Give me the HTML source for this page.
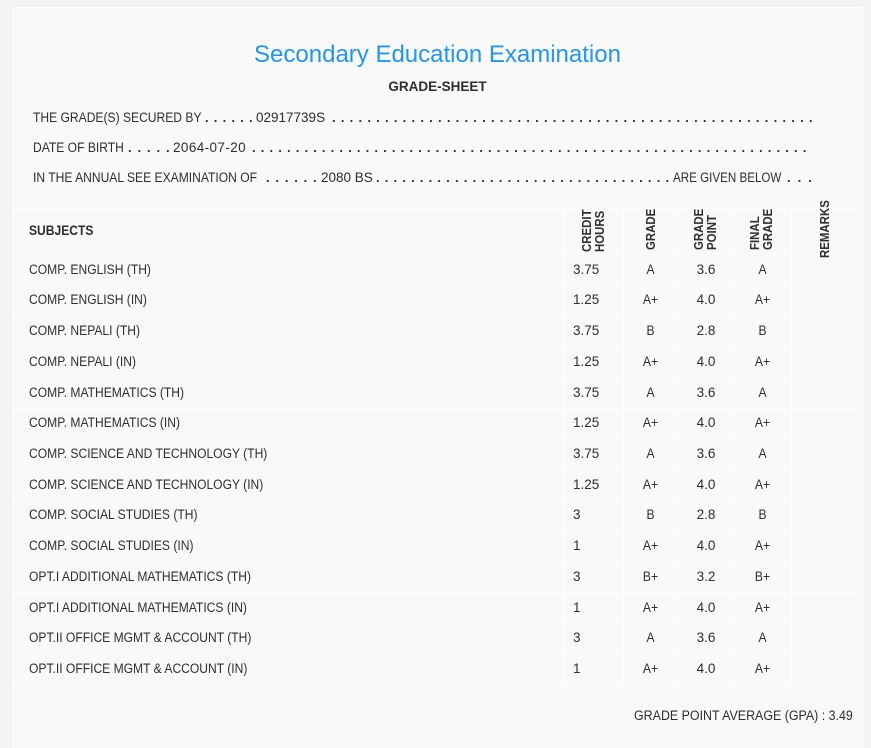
<!DOCTYPE html>
<html>
<head>
<meta charset="utf-8">
<style>
  html,body{margin:0;padding:0;}
  body{width:871px;height:741px;overflow:hidden;position:relative;background:#f3f3f3;
       font-family:"Liberation Sans",Arial,sans-serif;color:#2e2e2e;}
  .panel{position:absolute;left:13px;top:7px;width:848px;height:740px;background:#f9f9f9;
         border-left:1px solid #fff;border-top:1px solid #fff;border-right:1px solid #fff;}
  .t{position:absolute;white-space:nowrap;font-size:13.5px;line-height:15px;
     transform:scaleX(0.895);transform-origin:0 0;}
  .n{position:absolute;white-space:nowrap;font-size:13.5px;line-height:15px;}
  .d{position:absolute;white-space:nowrap;font-size:13px;line-height:15px;font-weight:bold;}
  .b{font-weight:bold;}
  .h{position:absolute;left:14px;width:848px;height:1px;background:#fff;}
  .v{position:absolute;top:208px;height:476px;width:1px;background:#fff;}
  .rot{position:absolute;white-space:nowrap;font-size:13px;line-height:14px;font-weight:bold;
       transform:rotate(-90deg) scaleX(0.88);transform-origin:0 0;}
  .c{text-align:center;transform-origin:50% 0;}
</style>
</head>
<body>
<div class="panel"></div>

<div class="n" style="left:13px;width:849px;top:42.7px;font-size:24px;line-height:24px;color:#2196f3;text-align:center;">Secondary Education Examination</div>
<div class="n b" style="left:13px;width:849px;top:78.9px;font-size:13.5px;line-height:16px;text-align:center;">GRADE-SHEET</div>

<!-- info line 1 -->
<div class="t" style="left:33px;top:110px;">THE GRADE(S) SECURED BY</div>
<div class="d" style="left:205px;top:110px;letter-spacing:5.2px;">......</div>
<div class="n" style="left:256px;top:110px;">02917739S</div>
<div class="d" style="left:332px;top:110px;letter-spacing:5.22px;">.......................................................</div>

<!-- info line 2 -->
<div class="t" style="left:33px;top:139.7px;">DATE OF BIRTH</div>
<div class="d" style="left:128px;top:139.7px;letter-spacing:5.9px;">.....</div>
<div class="n" style="left:173px;top:139.7px;letter-spacing:0.4px;">2064-07-20</div>
<div class="d" style="left:252px;top:139.7px;letter-spacing:5.13px;">................................................................</div>

<!-- info line 3 -->
<div class="t" style="left:33px;top:170px;">IN THE ANNUAL SEE EXAMINATION OF</div>
<div class="d" style="left:266px;top:170px;letter-spacing:5.8px;">......</div>
<div class="n" style="left:321px;top:170px;">2080 BS</div>
<div class="d" style="left:376px;top:170px;letter-spacing:5.16px;">..................................</div>
<div class="t" style="left:673px;top:170px;transform:scaleX(0.86);">ARE GIVEN BELOW</div>
<div class="d" style="left:787px;top:170px;letter-spacing:7.0px;">...</div>

<!-- grid lines -->
<div class="h" style="top:208px"></div>
<div class="h" style="top:254px"></div>
<div class="h" style="top:285px"></div>
<div class="h" style="top:316px"></div>
<div class="h" style="top:346px"></div>
<div class="h" style="top:377px"></div>
<div class="h" style="top:408px"></div>
<div class="h" style="top:438px"></div>
<div class="h" style="top:469px"></div>
<div class="h" style="top:500px"></div>
<div class="h" style="top:530px"></div>
<div class="h" style="top:561px"></div>
<div class="h" style="top:592px"></div>
<div class="h" style="top:622px"></div>
<div class="h" style="top:653px"></div>
<div class="h" style="top:684px"></div>
<div class="v" style="left:564px"></div>
<div class="v" style="left:623px"></div>
<div class="v" style="left:678px"></div>
<div class="v" style="left:734px"></div>
<div class="v" style="left:791px"></div>

<!-- header -->
<div class="t b" style="left:29px;top:222.6px;">SUBJECTS</div>
<div class="rot" style="left:580.2px;top:252px;">CREDIT</div>
<div class="rot" style="left:593.2px;top:252px;">HOURS</div>
<div class="rot" style="left:644.2px;top:250px;">GRADE</div>
<div class="rot" style="left:692.2px;top:250px;">GRADE</div>
<div class="rot" style="left:705.2px;top:250px;">POINT</div>
<div class="rot" style="left:748.2px;top:250px;">FINAL</div>
<div class="rot" style="left:761.2px;top:250px;">GRADE</div>
<div class="rot" style="left:818.2px;top:258px;">REMARKS</div>

<!-- rows -->
<div class="t" style="left:29px;top:261.6px;">COMP. ENGLISH (TH)</div>
<div class="n" style="left:573px;top:261.6px;">3.75</div>
<div class="t c" style="left:623px;width:55px;top:261.6px;">A</div>
<div class="n c" style="left:678px;width:56px;top:261.6px;">3.6</div>
<div class="t c" style="left:734px;width:57px;top:261.6px;">A</div>

<div class="t" style="left:29px;top:292.3px;">COMP. ENGLISH (IN)</div>
<div class="n" style="left:573px;top:292.3px;">1.25</div>
<div class="t c" style="left:623px;width:55px;top:292.3px;">A+</div>
<div class="n c" style="left:678px;width:56px;top:292.3px;">4.0</div>
<div class="t c" style="left:734px;width:57px;top:292.3px;">A+</div>

<div class="t" style="left:29px;top:323px;">COMP. NEPALI (TH)</div>
<div class="n" style="left:573px;top:323px;">3.75</div>
<div class="t c" style="left:623px;width:55px;top:323px;">B</div>
<div class="n c" style="left:678px;width:56px;top:323px;">2.8</div>
<div class="t c" style="left:734px;width:57px;top:323px;">B</div>

<div class="t" style="left:29px;top:353.8px;">COMP. NEPALI (IN)</div>
<div class="n" style="left:573px;top:353.8px;">1.25</div>
<div class="t c" style="left:623px;width:55px;top:353.8px;">A+</div>
<div class="n c" style="left:678px;width:56px;top:353.8px;">4.0</div>
<div class="t c" style="left:734px;width:57px;top:353.8px;">A+</div>

<div class="t" style="left:29px;top:384.5px;">COMP. MATHEMATICS (TH)</div>
<div class="n" style="left:573px;top:384.5px;">3.75</div>
<div class="t c" style="left:623px;width:55px;top:384.5px;">A</div>
<div class="n c" style="left:678px;width:56px;top:384.5px;">3.6</div>
<div class="t c" style="left:734px;width:57px;top:384.5px;">A</div>

<div class="t" style="left:29px;top:415.2px;">COMP. MATHEMATICS (IN)</div>
<div class="n" style="left:573px;top:415.2px;">1.25</div>
<div class="t c" style="left:623px;width:55px;top:415.2px;">A+</div>
<div class="n c" style="left:678px;width:56px;top:415.2px;">4.0</div>
<div class="t c" style="left:734px;width:57px;top:415.2px;">A+</div>

<div class="t" style="left:29px;top:445.9px;">COMP. SCIENCE AND TECHNOLOGY (TH)</div>
<div class="n" style="left:573px;top:445.9px;">3.75</div>
<div class="t c" style="left:623px;width:55px;top:445.9px;">A</div>
<div class="n c" style="left:678px;width:56px;top:445.9px;">3.6</div>
<div class="t c" style="left:734px;width:57px;top:445.9px;">A</div>

<div class="t" style="left:29px;top:476.6px;">COMP. SCIENCE AND TECHNOLOGY (IN)</div>
<div class="n" style="left:573px;top:476.6px;">1.25</div>
<div class="t c" style="left:623px;width:55px;top:476.6px;">A+</div>
<div class="n c" style="left:678px;width:56px;top:476.6px;">4.0</div>
<div class="t c" style="left:734px;width:57px;top:476.6px;">A+</div>

<div class="t" style="left:29px;top:507.4px;">COMP. SOCIAL STUDIES (TH)</div>
<div class="n" style="left:573px;top:507.4px;">3</div>
<div class="t c" style="left:623px;width:55px;top:507.4px;">B</div>
<div class="n c" style="left:678px;width:56px;top:507.4px;">2.8</div>
<div class="t c" style="left:734px;width:57px;top:507.4px;">B</div>

<div class="t" style="left:29px;top:538.1px;">COMP. SOCIAL STUDIES (IN)</div>
<div class="n" style="left:573px;top:538.1px;">1</div>
<div class="t c" style="left:623px;width:55px;top:538.1px;">A+</div>
<div class="n c" style="left:678px;width:56px;top:538.1px;">4.0</div>
<div class="t c" style="left:734px;width:57px;top:538.1px;">A+</div>

<div class="t" style="left:29px;top:568.8px;">OPT.I ADDITIONAL MATHEMATICS (TH)</div>
<div class="n" style="left:573px;top:568.8px;">3</div>
<div class="t c" style="left:623px;width:55px;top:568.8px;">B+</div>
<div class="n c" style="left:678px;width:56px;top:568.8px;">3.2</div>
<div class="t c" style="left:734px;width:57px;top:568.8px;">B+</div>

<div class="t" style="left:29px;top:599.5px;">OPT.I ADDITIONAL MATHEMATICS (IN)</div>
<div class="n" style="left:573px;top:599.5px;">1</div>
<div class="t c" style="left:623px;width:55px;top:599.5px;">A+</div>
<div class="n c" style="left:678px;width:56px;top:599.5px;">4.0</div>
<div class="t c" style="left:734px;width:57px;top:599.5px;">A+</div>

<div class="t" style="left:29px;top:630.2px;">OPT.II OFFICE MGMT &amp; ACCOUNT (TH)</div>
<div class="n" style="left:573px;top:630.2px;">3</div>
<div class="t c" style="left:623px;width:55px;top:630.2px;">A</div>
<div class="n c" style="left:678px;width:56px;top:630.2px;">3.6</div>
<div class="t c" style="left:734px;width:57px;top:630.2px;">A</div>

<div class="t" style="left:29px;top:660.9px;">OPT.II OFFICE MGMT &amp; ACCOUNT (IN)</div>
<div class="n" style="left:573px;top:660.9px;">1</div>
<div class="t c" style="left:623px;width:55px;top:660.9px;">A+</div>
<div class="n c" style="left:678px;width:56px;top:660.9px;">4.0</div>
<div class="t c" style="left:734px;width:57px;top:660.9px;">A+</div>

<div class="t" style="right:18px;top:707.6px;transform:scaleX(0.92);transform-origin:100% 0;">GRADE POINT AVERAGE (GPA) : 3.49</div>
</body>
</html>
